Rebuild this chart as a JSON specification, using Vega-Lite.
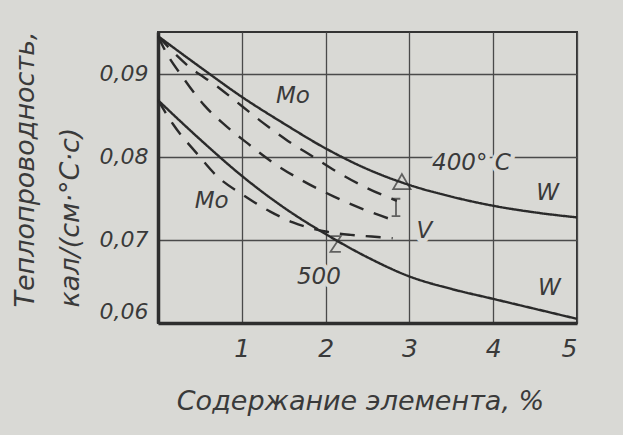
{
  "$schema": "https://vega.github.io/schema/vega-lite/v6.json",
  "width": 419,
  "height": 291,
  "autosize": {"type": "none"},
  "padding": {"left": 158, "top": 32, "right": 46, "bottom": 112},
  "background": "#d9d9d5",
  "config": {
    "view": {"stroke": "#333333", "strokeWidth": 2},
    "font": "DejaVu Sans",
    "axis": {
      "ticks": false,
      "grid": true,
      "gridColor": "#4a4a4a",
      "gridWidth": 1.3,
      "domainColor": "#2e2e2e",
      "domainWidth": 3.5,
      "labelFont": "DejaVu Sans",
      "labelFontStyle": "italic",
      "labelFontSize": 22,
      "labelColor": "#3a3a3a",
      "titleFont": "DejaVu Sans",
      "titleFontStyle": "italic",
      "titleFontWeight": "normal",
      "titleFontSize": 27,
      "titleColor": "#3a3a3a"
    }
  },
  "datasets": {
    "curves": [
      {"series": "W 400", "element": "W", "x": 0, "y": 0.0945},
      {"series": "W 400", "element": "W", "x": 0.5, "y": 0.0908},
      {"series": "W 400", "element": "W", "x": 1, "y": 0.0872},
      {"series": "W 400", "element": "W", "x": 1.5, "y": 0.084},
      {"series": "W 400", "element": "W", "x": 2, "y": 0.081},
      {"series": "W 400", "element": "W", "x": 2.5, "y": 0.0785},
      {"series": "W 400", "element": "W", "x": 3, "y": 0.0766},
      {"series": "W 400", "element": "W", "x": 3.5, "y": 0.0752},
      {"series": "W 400", "element": "W", "x": 4, "y": 0.0741},
      {"series": "W 400", "element": "W", "x": 4.5, "y": 0.0733},
      {"series": "W 400", "element": "W", "x": 5, "y": 0.0727},
      {"series": "Mo 400", "element": "Mo", "x": 0, "y": 0.0945},
      {"series": "Mo 400", "element": "Mo", "x": 0.35, "y": 0.091},
      {"series": "Mo 400", "element": "Mo", "x": 0.7, "y": 0.0885},
      {"series": "Mo 400", "element": "Mo", "x": 1, "y": 0.0861},
      {"series": "Mo 400", "element": "Mo", "x": 1.25, "y": 0.0841},
      {"series": "Mo 400", "element": "Mo", "x": 1.55, "y": 0.0819},
      {"series": "Mo 400", "element": "Mo", "x": 1.85, "y": 0.08},
      {"series": "Mo 400", "element": "Mo", "x": 2.15, "y": 0.0781},
      {"series": "Mo 400", "element": "Mo", "x": 2.5, "y": 0.0762},
      {"series": "Mo 400", "element": "Mo", "x": 2.85, "y": 0.0747},
      {"series": "V 400", "element": "V", "x": 0, "y": 0.0945},
      {"series": "V 400", "element": "V", "x": 0.1, "y": 0.0925},
      {"series": "V 400", "element": "V", "x": 0.3, "y": 0.0895},
      {"series": "V 400", "element": "V", "x": 0.55, "y": 0.0862},
      {"series": "V 400", "element": "V", "x": 0.8, "y": 0.0838},
      {"series": "V 400", "element": "V", "x": 1.07, "y": 0.0816},
      {"series": "V 400", "element": "V", "x": 1.37, "y": 0.0793},
      {"series": "V 400", "element": "V", "x": 1.71, "y": 0.0772},
      {"series": "V 400", "element": "V", "x": 2.1, "y": 0.0752},
      {"series": "V 400", "element": "V", "x": 2.47, "y": 0.0736},
      {"series": "V 400", "element": "V", "x": 2.83, "y": 0.0723},
      {"series": "W 500", "element": "W", "x": 0, "y": 0.0868},
      {"series": "W 500", "element": "W", "x": 0.5, "y": 0.0821},
      {"series": "W 500", "element": "W", "x": 1, "y": 0.0777},
      {"series": "W 500", "element": "W", "x": 1.5, "y": 0.0739},
      {"series": "W 500", "element": "W", "x": 2, "y": 0.0707},
      {"series": "W 500", "element": "W", "x": 2.5, "y": 0.0679},
      {"series": "W 500", "element": "W", "x": 3, "y": 0.0656},
      {"series": "W 500", "element": "W", "x": 3.5, "y": 0.0641},
      {"series": "W 500", "element": "W", "x": 4, "y": 0.0629},
      {"series": "W 500", "element": "W", "x": 4.5, "y": 0.0617},
      {"series": "W 500", "element": "W", "x": 5, "y": 0.0605},
      {"series": "Mo 500", "element": "Mo", "x": 0, "y": 0.0868},
      {"series": "Mo 500", "element": "Mo", "x": 0.18, "y": 0.0839},
      {"series": "Mo 500", "element": "Mo", "x": 0.48, "y": 0.0802},
      {"series": "Mo 500", "element": "Mo", "x": 0.7, "y": 0.0777},
      {"series": "Mo 500", "element": "Mo", "x": 1, "y": 0.0755},
      {"series": "Mo 500", "element": "Mo", "x": 1.34, "y": 0.0734},
      {"series": "Mo 500", "element": "Mo", "x": 1.61, "y": 0.0721},
      {"series": "Mo 500", "element": "Mo", "x": 2, "y": 0.071},
      {"series": "Mo 500", "element": "Mo", "x": 2.3, "y": 0.0706},
      {"series": "Mo 500", "element": "Mo", "x": 2.55, "y": 0.0704},
      {"series": "Mo 500", "element": "Mo", "x": 2.8, "y": 0.0702}
    ],
    "labels": [
      {"text": "Mo", "x": 1.61, "y": 0.0873},
      {"text": "400° C", "x": 3.74, "y": 0.0793},
      {"text": "W", "x": 4.65, "y": 0.0756},
      {"text": "Mo", "x": 0.64, "y": 0.0747},
      {"text": "V", "x": 3.18, "y": 0.0711},
      {"text": "500", "x": 1.92, "y": 0.0655},
      {"text": "W", "x": 4.67, "y": 0.0642}
    ],
    "markers": [
      {"marker": "triangle", "x": 2.91, "y": 0.077},
      {"marker": "bar", "x": 2.84, "y": 0.0739},
      {"marker": "zigzag", "x": 2.12, "y": 0.0695}
    ]
  },
  "encoding": {
    "x": {
      "field": "x",
      "type": "quantitative",
      "scale": {"domain": [0, 5], "nice": false, "zero": false},
      "axis": {
        "values": [1, 2, 3, 4, 5],
        "labelFontSize": 25,
        "labelPadding": 13,
        "title": "Содержание элемента, %",
        "titleX": 202,
        "titleY": 78,
        "titleBaseline": "middle"
      }
    },
    "y": {
      "field": "y",
      "type": "quantitative",
      "scale": {"domain": [0.06, 0.095], "nice": false, "zero": false},
      "axis": {
        "values": [0.06, 0.07, 0.08, 0.09],
        "labelExpr": "replace(format(datum.value, '.2f'), '.', ',')",
        "labelPadding": 10,
        "labelFlush": true,
        "title": ["Теплопроводность,", "кал/(см·°С·с)"],
        "titleAngle": -90,
        "titleAlign": "left",
        "titleBaseline": "top",
        "titleX": -146,
        "titleY": 275,
        "titleLineHeight": 45
      }
    }
  },
  "layer": [
    {
      "data": {"name": "labels"},
      "mark": {"type": "text", "fontSize": 23, "fontStyle": "italic", "stroke": "#d9d9d5", "strokeWidth": 9, "strokeJoin": "round", "align": "center", "baseline": "middle", "color": "#d9d9d5"},
      "encoding": {"text": {"field": "text"}}
    },
    {
      "data": {"name": "curves"},
      "mark": {"type": "line", "interpolate": "monotone", "strokeWidth": 2.4, "color": "#2a2a2a"},
      "encoding": {
        "detail": {"field": "series"},
        "strokeDash": {
          "field": "element",
          "type": "nominal",
          "scale": {"domain": ["W", "Mo", "V"], "range": [[1, 0], [15, 11], [15, 11]]},
          "legend": null
        }
      }
    },
    {
      "data": {"name": "markers"},
      "mark": {"type": "point", "filled": false, "strokeWidth": 1.8, "color": "#2e2e2e", "size": 300},
      "encoding": {
        "shape": {
          "field": "marker",
          "type": "nominal",
          "scale": {
            "domain": ["triangle", "bar", "zigzag"],
            "range": ["triangle-up", "M-0.5,-1H0.5M0,-1V1M-0.5,1H0.5", "M-0.6,-0.9H0.6L-0.6,0.9H0.6"]
          },
          "legend": null
        }
      }
    },
    {
      "data": {"name": "labels"},
      "mark": {"type": "text", "fontSize": 23, "fontStyle": "italic", "align": "center", "baseline": "middle", "color": "#3a3a3a"},
      "encoding": {"text": {"field": "text"}}
    }
  ]
}
